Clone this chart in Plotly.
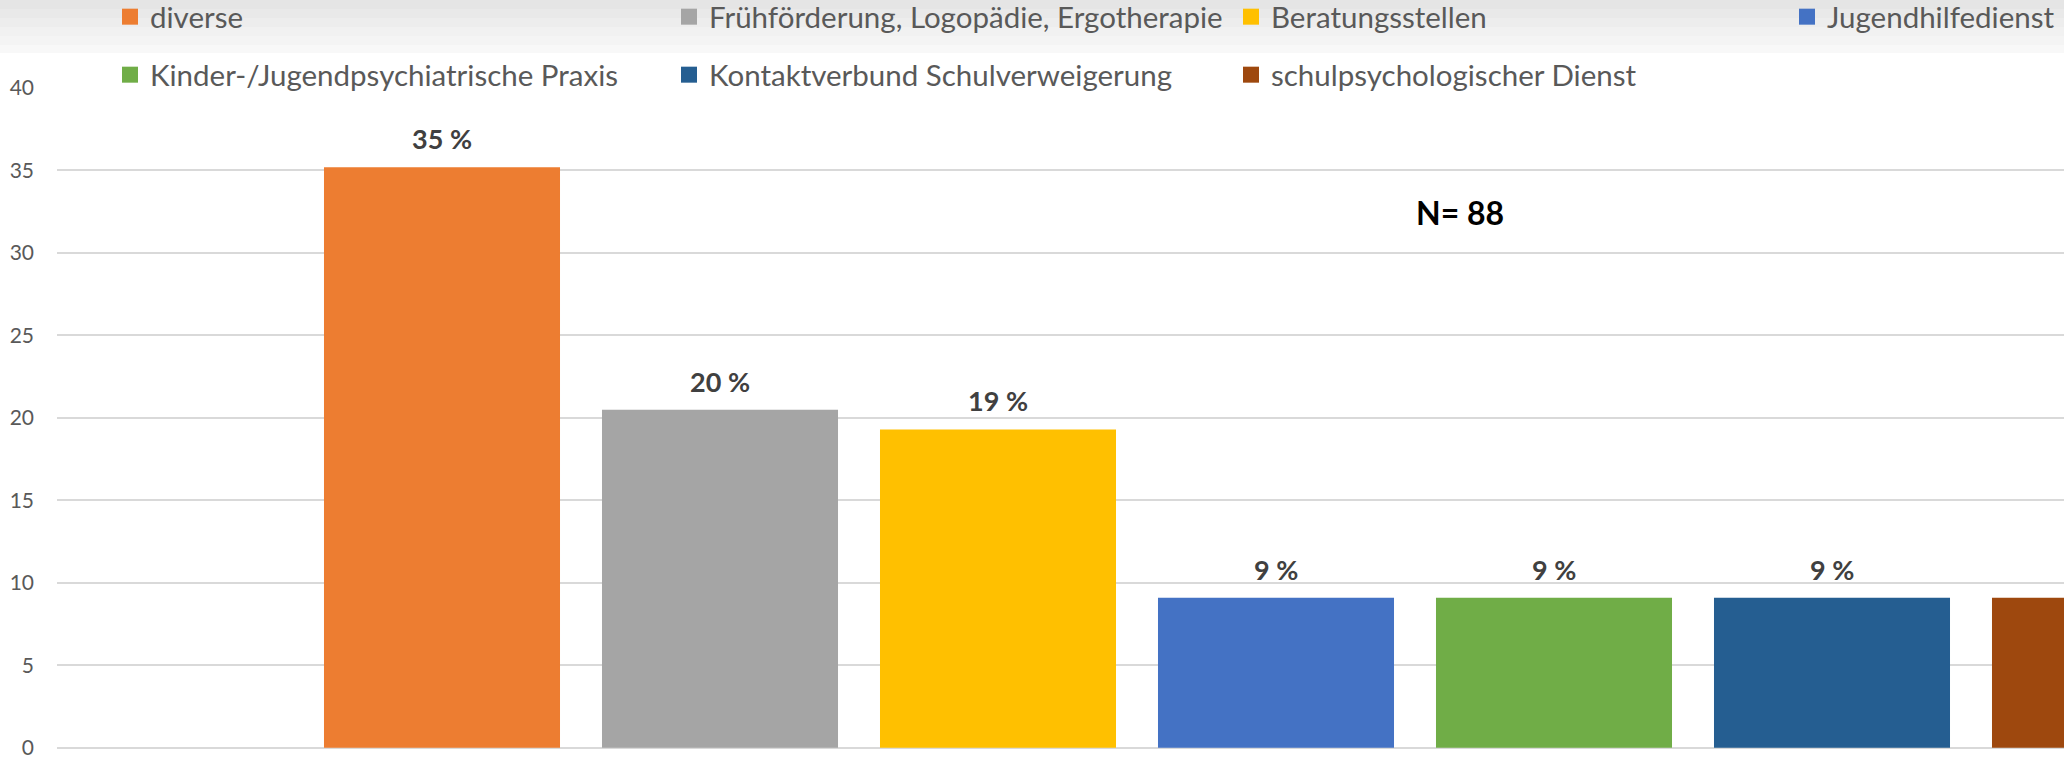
import plotly.graph_objects as go

categories = [
    "diverse",
    "Frühförderung, Logopädie, Ergotherapie",
    "Beratungsstellen",
    "Jugendhilfedienst",
    "Kinder-/Jugendpsychiatrische Praxis",
    "Kontaktverbund Schulverweigerung",
    "schulpsychologischer Dienst",
]
values = [35.2, 20.5, 19.3, 9.1, 9.1, 9.1, 9.1]
value_labels = ["35 %", "20 %", "19 %", "9 %", "9 %", "9 %", "9 %"]
colors = ["#ED7D31", "#A5A5A5", "#FFC000", "#4472C4", "#70AD47", "#255E91", "#9E480E"]
y_ticks = [0, 5, 10, 15, 20, 25, 30, 35, 40]
n_text = "N= 88"

W, H = 2064, 757
ML, MR, MT, MB = 57, 0, 88, 8
PH = H - MT - MB
PW = W - ML - MR
YMIN, YMAX = -0.07, 40

def py(pix):
    return (H - MB - pix) / PH

def px(pix):
    return (pix - ML) / PW

# legend slot for each category: (item origin x in px, row centre y in px)
legend_cols = [110, 669, 1231, 1787, 110, 669, 1231]
legend_rows_y = [17, 17, 17, 17, 75, 75, 75]

FONT = "Lato"
fig = go.Figure()

legend_layouts = {}
for i, (cat, val, col) in enumerate(zip(categories, values, colors)):
    lg = "legend" if i == 0 else f"legend{i + 1}"
    fig.add_trace(go.Bar(x=[cat], y=[val], marker=dict(color=col, line=dict(width=0)),
                         showlegend=False, hoverinfo="skip"))
    fig.add_trace(go.Scatter(x=[None], y=[None], mode="markers", name=cat,
                             marker=dict(symbol="square", size=16, color=col),
                             legend=lg, showlegend=True))
    legend_layouts[lg] = dict(orientation="h", x=px(legend_cols[i]), xanchor="left",
                              y=py(legend_rows_y[i]), yanchor="middle",
                              bgcolor="rgba(0,0,0,0)", borderwidth=0,
                              font=dict(family=FONT, size=29.5, color="#595959"),
                              itemclick=False, itemdoubleclick=False)

for cat, val, lab in zip(categories, values, value_labels):
    fig.add_annotation(x=cat, y=val, text=lab, showarrow=False, yanchor="bottom",
                       yshift=10, font=dict(family=FONT, size=27, color="#404040", weight="bold"))

fig.add_annotation(xref="paper", yref="paper", x=px(1460), y=py(212.5), text=n_text,
                   showarrow=False, xanchor="center", yanchor="middle",
                   font=dict(family=FONT, size=32, color="#000000", weight="bold"))

band_colors = ["#e5e5e5", "#e9e9e9", "#ededed", "#f1f1f1", "#f4f4f4", "#f8f8f8"]
edges = [0, 9, 18, 27, 36, 45, 53]
for i, c in enumerate(band_colors):
    fig.add_shape(type="rect", xref="paper", yref="paper", x0=px(0), x1=1.0,
                  y0=py(edges[i + 1]), y1=py(edges[i]), fillcolor=c,
                  line=dict(width=0), layer="below")

span = PW / 278.0
left = -385.0 / 278.0

fig.update_layout(
    width=W, height=H,
    margin=dict(l=ML, r=MR, t=MT, b=MB, pad=0, autoexpand=False),
    paper_bgcolor="#ffffff", plot_bgcolor="#ffffff",
    barmode="relative", bargap=0.151,
    font=dict(family=FONT, color="#595959"),
    xaxis=dict(type="category", categoryorder="array", categoryarray=categories,
               range=[left, left + span], showticklabels=False, showgrid=False,
               zeroline=False, showline=False, ticks=""),
    yaxis=dict(range=[YMIN, YMAX], tickvals=y_ticks, showgrid=True, gridcolor="#d9d9d9",
               gridwidth=2, zeroline=False, showline=False, ticks="",
               ticklabelstandoff=22, ticklabeloverflow="allow",
               tickfont=dict(family=FONT, size=21, color="#595959")),
    **legend_layouts,
)

fig.write_html("out.html", config={"displayModeBar": False, "staticPlot": True},
               post_script="document.body.style.margin='0';document.body.style.overflow='hidden';")
